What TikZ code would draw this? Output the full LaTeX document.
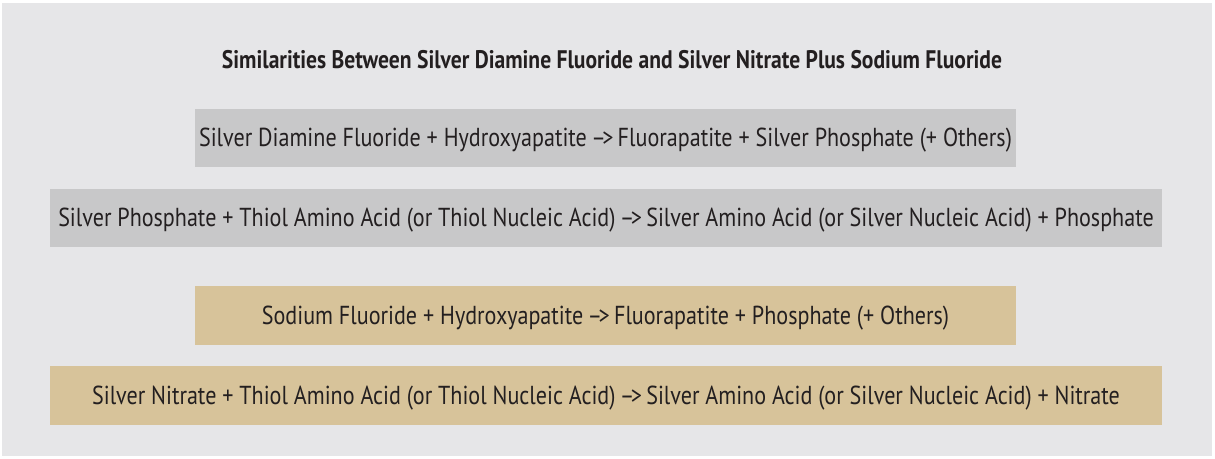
\documentclass[tikz,border=0pt]{standalone}
\usepackage{fontspec}
\setmainfont[FakeStretch=0.85]{PT Sans}
\definecolor{bgc}{HTML}{E6E6E8}
\definecolor{grayc}{HTML}{C8C8C9}
\definecolor{tanc}{HTML}{D7C39A}
\definecolor{txt}{HTML}{231F20}
\newcommand{\rarrow}{\,–\kern-.14em>\,}
\tikzset{
  box/.style={inner sep=0pt, text=txt, font=\fontsize{26}{31}\selectfont},
  title/.style={text=txt, inner sep=0pt, font=\fontsize{25.4}{30}\selectfont\bfseries}
}
\begin{document}
\begin{tikzpicture}[x=1pt,y=-1pt]
\useasboundingbox (0,0) rectangle (1215,458);
\fill[bgc] (2,3) rectangle (1212,456);
\node[title] (t) at (612,59.5) {Similarities Between Silver Diamine Fluoride and Silver Nitrate Plus Sodium Fluoride};
\fill[grayc] (195,109) rectangle (1016,167);
\node[box] (b1) at (605.5,140) {Silver Diamine Fluoride + Hydroxyapatite\rarrow Fluorapatite + Silver Phosphate (+ Others)};
\fill[grayc] (50,189) rectangle (1162,247);
\node[box] (b2) at (606,220) {Silver Phosphate + Thiol Amino Acid (or Thiol Nucleic Acid)\rarrow Silver Amino Acid (or Silver Nucleic Acid) + Phosphate};
\fill[tanc] (195,286) rectangle (1016,345);
\node[box] (b3) at (605.5,318) {Sodium Fluoride + Hydroxyapatite\rarrow Fluorapatite + Phosphate (+ Others)};
\fill[tanc] (50,366) rectangle (1162,425);
\node[box] (b4) at (606,398) {Silver Nitrate + Thiol Amino Acid (or Thiol Nucleic Acid)\rarrow Silver Amino Acid (or Silver Nucleic Acid) + Nitrate};
\end{tikzpicture}
\end{document}
